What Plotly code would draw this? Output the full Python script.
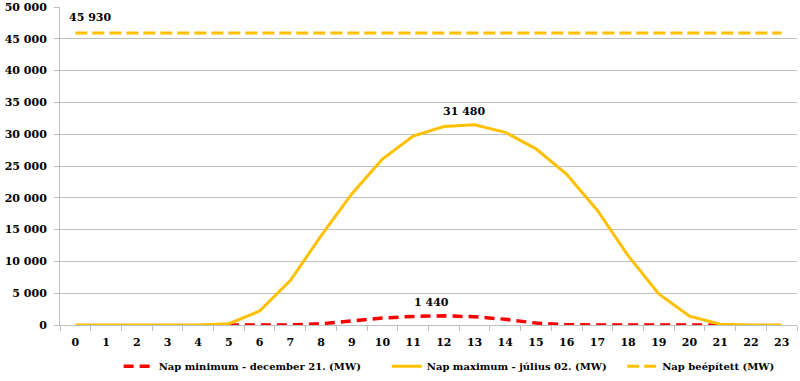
import plotly.graph_objects as go

hours = list(range(24))
min_hours = list(range(5, 22))
min_vals = [0, 0, 20, 200, 650, 1100, 1350, 1440, 1300, 900, 300, 50, 0, 0, 0, 0, 0]
max_vals = [0, 0, 0, 0, 0, 200, 2200, 7000, 14000, 20600, 26100, 29700, 31200, 31480,
            30300, 27700, 23700, 18000, 10900, 4900, 1400, 120, 0, 0]
installed_vals = [45930] * 24
y_ticks = list(range(0, 50001, 5000))

names = ["Nap minimum - december 21. (MW)", "Nap maximum - július 02. (MW)", "Nap beépített (MW)"]
YELLOW = "#FFC000"
RED = "#FF0000"
FONT = "DejaVu Serif"
GRID = "#BFBFBF"
NB = "\u00a0"

def fmt(v):
    return f"{v:,}".replace(",", " ")

fig = go.Figure()
fig.add_trace(go.Scatter(x=min_hours, y=min_vals, mode="lines", name=names[0] + NB * 6,
                         line=dict(color=RED, width=3.5, dash="10px,6px")))
fig.add_trace(go.Scatter(x=hours, y=max_vals, mode="lines", name=names[1] + NB * 3,
                         line=dict(color=YELLOW, width=3)))
fig.add_trace(go.Scatter(x=hours, y=installed_vals, mode="lines", name=names[2],
                         line=dict(color=YELLOW, width=3, dash="12px,5px")))

labels = [(hours[0], installed_vals[0], "left", -8, 7),
          (hours[13], max_vals[13], "center", -11, 5),
          (min_hours[min_vals.index(max(min_vals))], max(min_vals), "center", -12, 5)]
for xv, yv, xa, xs, ys in labels:
    fig.add_annotation(x=xv, y=yv, text=fmt(yv), showarrow=False, yanchor="bottom",
                       xanchor=xa, xshift=xs, yshift=ys,
                       font=dict(family=FONT, size=11, color="#000", weight="bold"))

fig.update_layout(
    width=800, height=381,
    margin=dict(l=60, r=3, t=7, b=56, autoexpand=False),
    plot_bgcolor="white", paper_bgcolor="white",
    separators=". ",
    font=dict(family=FONT, size=11, color="#000", weight="bold"),
    legend=dict(orientation="h", x=0.528, xanchor="center", y=-0.13, yanchor="middle",
                font=dict(family=FONT, size=10, color="#000", weight="bold"),
                itemwidth=30, tracegroupgap=0),
    showlegend=True,
)
fig.update_xaxes(range=[-0.5, 23.5], tickmode="array", tickvals=hours,
                 ticktext=[str(h) for h in hours], showgrid=False,
                 showline=True, linecolor=GRID, linewidth=1,
                 ticks="", ticklabelstandoff=7,
                 tickfont=dict(family=FONT, size=11, weight="bold"),
                 zeroline=False, automargin=False)
fig.update_xaxes(minor=dict(tickvals=[h - 0.5 for h in hours] + [23.5], ticks="outside",
                            ticklen=5, tickcolor=GRID, showgrid=False))
fig.update_yaxes(range=[0, 50000], tickmode="array", tickvals=y_ticks,
                 ticktext=[fmt(v) for v in y_ticks], showgrid=True, gridcolor=GRID,
                 gridwidth=1, showline=True, linecolor=GRID, linewidth=1,
                 zeroline=False, ticks="outside", ticklen=5, tickcolor=GRID,
                 ticklabelstandoff=5, automargin=False,
                 tickfont=dict(family=FONT, size=11, weight="bold"))

fig.write_html("out.html", config={"displayModeBar": False},
               post_script="document.body.style.margin='0';")
